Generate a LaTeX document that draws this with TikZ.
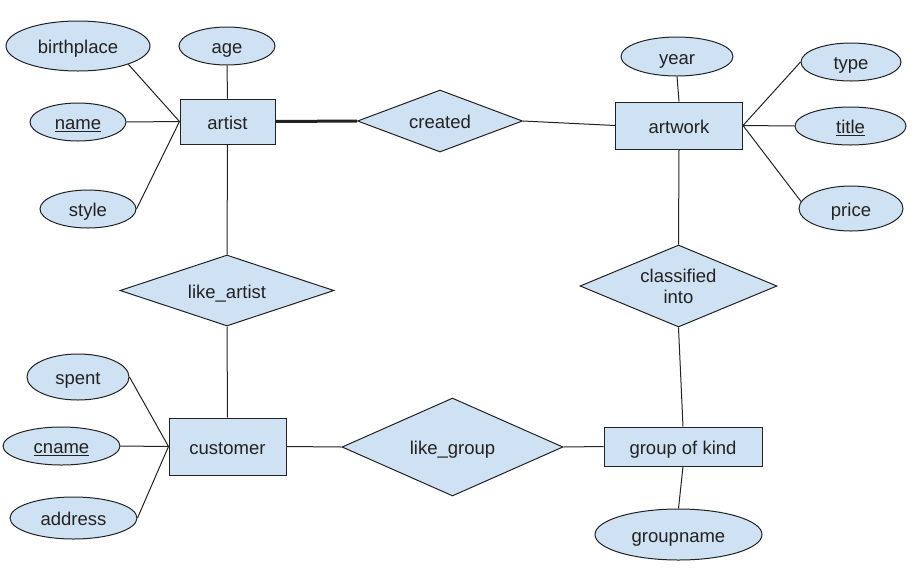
\documentclass[tikz,border=0pt]{standalone}
\usepackage{fontspec}
\setmainfont{Liberation Sans}
\usepackage{tikz}
\usetikzlibrary{shapes.geometric}

\definecolor{erfill}{HTML}{CFE2F3}
\definecolor{erline}{HTML}{222222}

\begin{document}
\begin{tikzpicture}[x=1pt,y=-1pt,line width=1pt,draw=erline,text=erline,
  font=\fontsize{18.5}{21}\selectfont]

  \tikzstyle{entity}=[draw=erline,fill=erfill,shape=rectangle,inner sep=0pt,text height=18.5pt,text depth=3.5pt]
  \tikzstyle{attr}=[draw=erline,fill=erfill,shape=ellipse,inner sep=0pt,text height=18.5pt,text depth=3.5pt]
  \tikzstyle{rel}=[draw=erline,fill=erfill,shape=diamond,aspect=2.5,inner sep=0pt,text height=18.5pt,text depth=3.5pt]

  \useasboundingbox (0,0) rectangle (924,582);

  \node[entity,minimum width=95pt,minimum height=45pt]  (artist)   at (227.5,121.5) {artist};
  \node[entity,minimum width=127pt,minimum height=47pt] (artwork)  at (679,125.5)   {artwork};
  \node[entity,minimum width=117pt,minimum height=57pt] (customer) at (227.5,446.5) {customer};
  \node[entity,minimum width=158pt,minimum height=39pt] (group)    at (683,446.5)   {group of kind};

  \node[rel,minimum width=165pt,minimum height=62pt] (created)    at (440,121)   {created};
  \node[rel,minimum width=214pt,minimum height=71pt] (likeartist) at (227,290.5) {like\_artist};
  \node[rel,minimum width=221pt,minimum height=98pt] (likegroup)  at (452.5,447) {like\_group};
  \node[rel,minimum width=197pt,minimum height=82pt,text height=,text depth=,align=center]
       (classified) at (678.5,286) {classified\\into};

  \node[attr,minimum width=144pt,minimum height=50pt] (birthplace) at (78,46)    {birthplace};
  \node[attr,minimum width=96pt,minimum height=38pt]  (age)        at (227,46)   {age};
  \node[attr,minimum width=96pt,minimum height=38pt]  (name)       at (78,122)   {\underline{name}};
  \node[attr,minimum width=96pt,minimum height=38pt]  (style)      at (88,209)   {style};

  \node[attr,minimum width=112pt,minimum height=39pt] (year)  at (677,56.5)  {year};
  \node[attr,minimum width=100pt,minimum height=38pt] (type)  at (851,62)    {type};
  \node[attr,minimum width=111pt,minimum height=38pt] (title) at (850.5,126) {\underline{title}};
  \node[attr,minimum width=104pt,minimum height=45pt] (price) at (851,208.5) {price};

  \node[attr,minimum width=102pt,minimum height=46pt] (spent)   at (78,377)   {spent};
  \node[attr,minimum width=117pt,minimum height=38pt] (cname)   at (61.5,446) {\underline{cname}};
  \node[attr,minimum width=127pt,minimum height=42pt] (address) at (73.5,518) {address};

  \node[attr,minimum width=167pt,minimum height=51pt] (groupname) at (678.5,534.5) {groupname};

  % attributes
  \path (artist.west) edge (birthplace.-20)
                      edge (name.east)
                      edge (style.east)
        (artist.north) edge (age.south)
        (artwork.north) edge (year.south)
        (artwork.east) edge (type.west)
                       edge (title.west)
                       edge (price.172)
        (customer.west) edge (spent.east)
                        edge (cname.east)
                        edge (address.east)
        (group.south) edge (groupname.north);

  % relationships
  \path (artist.east) edge [line width=3pt] (created.west)
        (created.east) edge (artwork.west)
        (artist.south) edge (likeartist.north)
        (likeartist.south) edge (customer.north)
        (customer.east) edge (likegroup.west)
        (likegroup.east) edge (group.west)
        (artwork.south) edge (classified.north)
        (classified.south) edge (group.north);
\end{tikzpicture}
\end{document}
